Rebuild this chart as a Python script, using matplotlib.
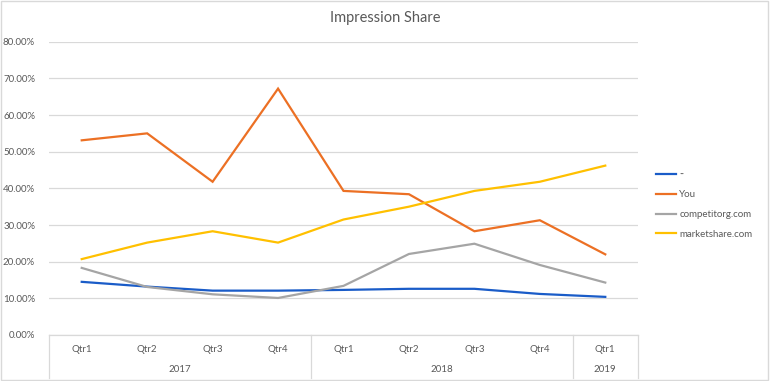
import matplotlib.pyplot as plt
from matplotlib.patches import Rectangle
from matplotlib.ticker import PercentFormatter
import matplotlib.transforms as mtransforms

plt.rcParams['font.family'] = ['Lato', 'DejaVu Sans']

quarters = ['Qtr1', 'Qtr2', 'Qtr3', 'Qtr4', 'Qtr1', 'Qtr2', 'Qtr3', 'Qtr4', 'Qtr1']
years = ['2017', '2018', '2019']
year_sizes = [4, 4, 1]

blue_vals = [14.5, 13.2, 12.1, 12.1, 12.3, 12.6, 12.6, 11.2, 10.4]
you_vals = [53.1, 55.0, 41.8, 67.2, 39.3, 38.4, 28.3, 31.3, 22.0]
gray_vals = [18.3, 13.1, 11.1, 10.1, 13.4, 22.1, 24.9, 19.1, 14.3]
gold_vals = [20.7, 25.2, 28.3, 25.2, 31.5, 35.0, 39.3, 41.8, 46.2]

series_labels = ['··', 'You', 'competitorg.com', 'marketshare.com']
series_colors = ['#1A5CC8', '#EC7024', '#A5A5A5', '#FFC000']

fig = plt.figure(figsize=(7.7, 3.81), dpi=100)
ax = fig.add_axes([49 / 770, 46 / 381, 589 / 770, 293.3 / 381])

x = list(range(len(quarters)))
for vals, lab, col in zip([blue_vals, you_vals, gray_vals, gold_vals], series_labels, series_colors):
    ax.plot(x, [v / 100 for v in vals], color=col, lw=1.6, label=lab, solid_joinstyle='miter')

ax.set_xlim(-0.5, len(quarters) - 0.5)
ax.set_ylim(0, 0.8)
ax.set_yticks([i / 10 for i in range(9)])
ax.yaxis.set_major_formatter(PercentFormatter(1.0, decimals=2))
ax.tick_params(axis='y', length=0, labelsize=7, labelcolor='#595959', pad=10)
ax.set_xticks([])
ax.grid(axis='y', color='#D9D9D9', lw=0.9)
ax.set_axisbelow(True)
for s in ['top', 'right', 'left']:
    ax.spines[s].set_visible(False)
ax.spines['bottom'].set_color('#D9D9D9')
ax.spines['bottom'].set_linewidth(0.9)

# two-level category axis
trans = mtransforms.blended_transform_factory(ax.transData, ax.transAxes)
h_ax = 293.3
for i, q in enumerate(quarters):
    ax.text(i, -14 / h_ax, q, transform=trans, ha='center', va='center',
            fontsize=7, color='#595959')
start = 0
bounds = [-0.5]
for yr, n in zip(years, year_sizes):
    ax.text(start + (n - 1) / 2, -34 / h_ax, yr, transform=trans, ha='center', va='center',
            fontsize=7, color='#595959')
    start += n
    bounds.append(start - 0.5)
for b in bounds:
    ax.plot([b, b], [0, -43 / h_ax], transform=trans, color='#D9D9D9', lw=0.9, clip_on=False)

fig.text(0.5, 1 - 18 / 381, 'Impression Share', fontsize=10.5, color='#595959',
         ha='center', va='center')

ax.legend(loc='center left', bbox_to_anchor=(1.015, 0.445), frameon=False, fontsize=7,
          labelcolor='#595959', handlelength=2.1, handletextpad=0.35, labelspacing=1.12)

fig.patches.append(Rectangle((0.001, 0.002), 0.997, 0.995, transform=fig.transFigure,
                             fill=False, edgecolor='#D9D9D9', lw=1))

fig.savefig('out.png', dpi=100)
